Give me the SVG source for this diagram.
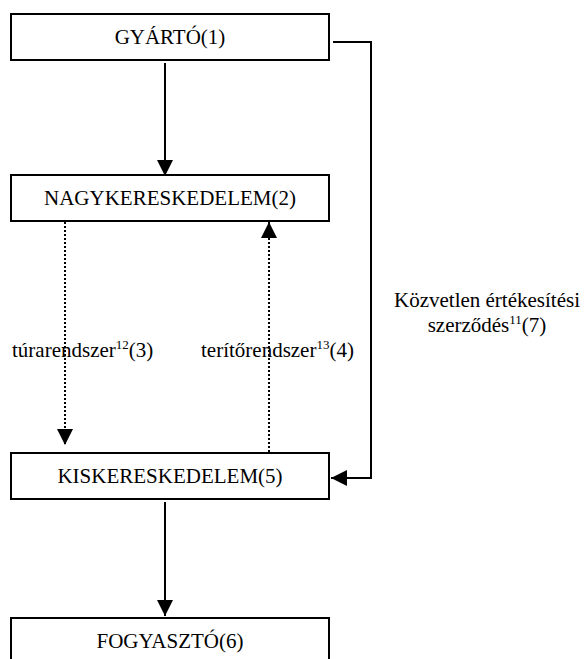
<svg xmlns="http://www.w3.org/2000/svg" width="584" height="659" viewBox="0 0 584 659" font-family="'Liberation Serif', 'Times New Roman', Times, serif">
<style>
.box{fill:#fff;stroke:#000;stroke-width:2}
text{font-family:'Liberation Serif','Times New Roman',Times,serif;font-size:21px;fill:#000}
.c{text-anchor:middle}
.ln{fill:none;stroke:#000;stroke-width:2}
.dot{fill:none;stroke:#000;stroke-width:2;stroke-dasharray:2 2}
.sup{font-size:13px}
</style>
<defs>
<marker id="ah" viewBox="0 0 16 16" refX="16" refY="8" markerWidth="16" markerHeight="16" markerUnits="userSpaceOnUse" orient="auto">
<path d="M0,0 L16,8 L0,16 Z" fill="#000"/>
</marker>
</defs>
<rect width="584" height="659" fill="#fff"/>
<g id="connectors">
<line class="ln" x1="165" y1="63" x2="165" y2="176" marker-end="url(#ah)"/>
<line class="dot" x1="65" y1="222" x2="65" y2="445" marker-end="url(#ah)"/>
<line class="dot" x1="269" y1="452" x2="269" y2="222" marker-end="url(#ah)"/>
<polyline class="ln" points="333,42 371,42 371,478 331,478" marker-end="url(#ah)"/>
<line class="ln" x1="165" y1="502" x2="165" y2="616" marker-end="url(#ah)"/>
</g>
<g id="n1"><rect class="box" x="11" y="14" width="318" height="46"/><text class="c" x="170" y="44">GYÁRTÓ(1)</text></g>
<g id="n2"><rect class="box" x="11" y="175" width="318" height="46"/><text class="c" x="170" y="205">NAGYKERESKEDELEM(2)</text></g>
<g id="n5"><rect class="box" x="11" y="453" width="318" height="46"/><text class="c" x="170" y="483">KISKERESKEDELEM(5)</text></g>
<g id="n6"><rect class="box" x="11" y="618" width="318" height="46"/><text class="c" x="170" y="648">FOGYASZTÓ(6)</text></g>
<g id="labels">
<text x="12" y="357">túrarendszer<tspan class="sup" dy="-8">12</tspan><tspan dy="8">(3)</tspan></text>
<text x="201" y="357">terítőrendszer<tspan class="sup" dy="-8">13</tspan><tspan dy="8">(4)</tspan></text>
<text class="c" x="487" y="307">Közvetlen értékesítési</text>
<text class="c" x="487" y="332">szerződés<tspan class="sup" dy="-8">11</tspan><tspan dy="8">(7)</tspan></text>
</g>
</svg>
